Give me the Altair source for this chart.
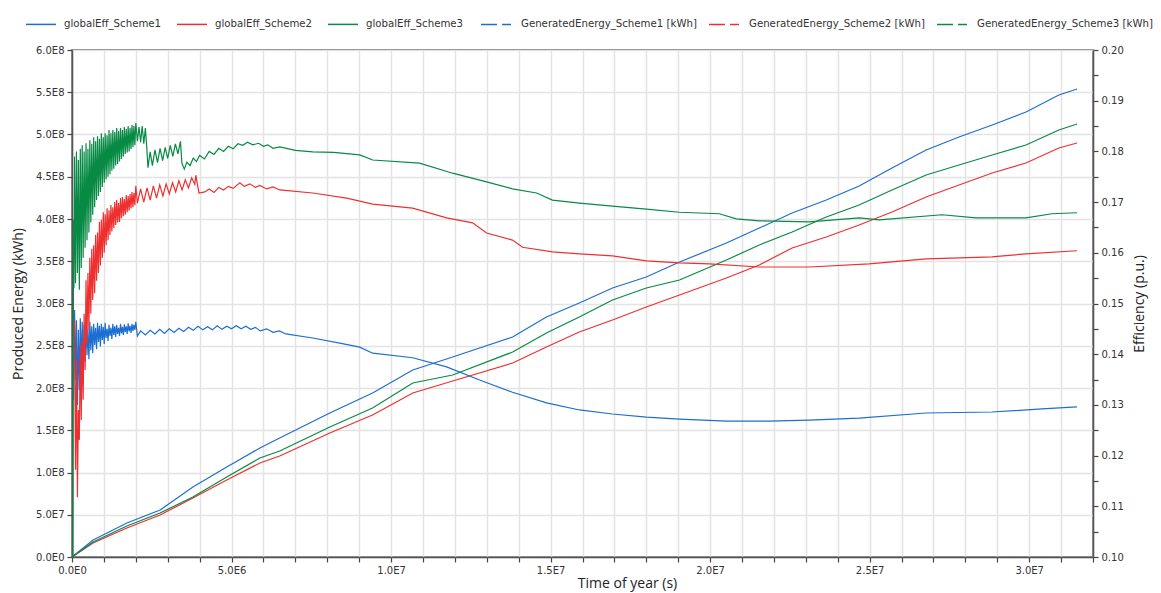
import altair as alt
import pandas as pd

# ---------------- data ----------------
series_energy = ["GeneratedEnergy_Scheme1 [kWh]", "GeneratedEnergy_Scheme2 [kWh]", "GeneratedEnergy_Scheme3 [kWh]"]
series_eff = ["globalEff_Scheme1", "globalEff_Scheme2", "globalEff_Scheme3"]

# time of year (s) for the cumulative energy curves
t_energy = [0, 0.66e6, 1.72e6, 2.76e6, 3.79e6, 4.85e6, 5.89e6, 6.51e6, 8.08e6, 9.42e6,
            10.68e6, 11.93e6, 13.81e6, 14.87e6, 15.90e6, 16.94e6, 18.00e6, 19.04e6, 20.51e6, 21.54e6,
            22.57e6, 23.64e6, 24.67e6, 25.70e6, 26.77e6, 27.80e6, 28.84e6, 29.90e6, 30.93e6, 31.50e6]
# produced energy (kWh)
energy_s1 = [0, 0.201e8, 0.402e8, 0.556e8, 0.828e8, 1.065e8, 1.290e8, 1.408e8, 1.704e8, 1.941e8,
             2.213e8, 2.367e8, 2.603e8, 2.840e8, 3.006e8, 3.183e8, 3.314e8, 3.491e8, 3.716e8, 3.893e8,
             4.071e8, 4.225e8, 4.390e8, 4.603e8, 4.816e8, 4.970e8, 5.112e8, 5.266e8, 5.467e8, 5.538e8]
energy_s2 = [0, 0.166e8, 0.343e8, 0.497e8, 0.698e8, 0.911e8, 1.112e8, 1.195e8, 1.467e8, 1.680e8,
             1.941e8, 2.083e8, 2.296e8, 2.485e8, 2.663e8, 2.805e8, 2.959e8, 3.101e8, 3.302e8, 3.456e8,
             3.657e8, 3.787e8, 3.929e8, 4.083e8, 4.260e8, 4.402e8, 4.544e8, 4.663e8, 4.840e8, 4.899e8]
energy_s3 = [0, 0.178e8, 0.367e8, 0.521e8, 0.710e8, 0.947e8, 1.172e8, 1.254e8, 1.538e8, 1.763e8,
             2.059e8, 2.154e8, 2.426e8, 2.651e8, 2.840e8, 3.041e8, 3.183e8, 3.278e8, 3.515e8, 3.692e8,
             3.846e8, 4.024e8, 4.166e8, 4.343e8, 4.521e8, 4.639e8, 4.757e8, 4.876e8, 5.053e8, 5.124e8]

# global efficiency (p.u.), scheme 1  (time in s, value)
t_eff1 = [0.05e6, 0.08e6, 0.11e6, 0.14e6, 0.17e6, 0.20e6, 0.23e6, 0.26e6, 0.29e6, 0.32e6,
          0.35e6, 0.38e6, 0.41e6, 0.44e6, 0.47e6, 0.50e6, 0.53e6, 0.56e6, 0.59e6, 0.62e6,
          0.65e6, 0.68e6, 0.71e6, 0.74e6, 0.77e6, 0.80e6, 0.83e6, 0.86e6, 0.89e6, 0.92e6,
          0.95e6, 0.98e6, 1.01e6, 1.04e6, 1.07e6, 1.10e6, 1.13e6, 1.16e6, 1.19e6, 1.22e6,
          1.25e6, 1.28e6, 1.31e6, 1.34e6, 1.37e6, 1.40e6, 1.43e6, 1.46e6, 1.49e6, 1.52e6,
          1.55e6, 1.58e6, 1.61e6, 1.64e6, 1.67e6, 1.70e6, 1.73e6, 1.76e6, 1.79e6, 1.82e6,
          1.85e6, 1.88e6, 1.91e6, 1.94e6, 1.97e6, 2.00e6, 2.05e6, 2.15e6, 2.30e6, 2.45e6,
          2.60e6, 2.75e6, 2.90e6, 3.05e6, 3.20e6, 3.35e6, 3.50e6, 3.65e6, 3.80e6, 3.95e6,
          4.10e6, 4.25e6, 4.40e6, 4.55e6, 4.70e6, 4.85e6, 5.00e6, 5.15e6, 5.30e6, 5.45e6,
          5.60e6, 5.75e6, 5.90e6, 6.10e6, 6.30e6, 6.50e6, 6.70e6, 7.545e6, 8.391e6, 9.017e6,
          9.424e6, 10.676e6, 11.741e6, 12.774e6, 13.807e6, 14.872e6, 15.905e6, 16.938e6, 18.003e6, 19.036e6,
          20.507e6, 21.854e6, 23.106e6, 24.671e6, 26.769e6, 28.835e6, 30.401e6, 31.497e6]
eff_s1 = [0.1310, 0.1487, 0.1349, 0.1467, 0.1300, 0.1448, 0.1329, 0.1471, 0.1369, 0.1464,
          0.1372, 0.1458, 0.1385, 0.1462, 0.1398, 0.1450, 0.1390, 0.1464, 0.1408, 0.1455,
          0.1402, 0.1460, 0.1418, 0.1452, 0.1410, 0.1462, 0.1424, 0.1456, 0.1415, 0.1460,
          0.1428, 0.1454, 0.1420, 0.1462, 0.1432, 0.1450, 0.1426, 0.1458, 0.1436, 0.1452,
          0.1430, 0.1460, 0.1438, 0.1455, 0.1434, 0.1458, 0.1440, 0.1452, 0.1436, 0.1460,
          0.1441, 0.1454, 0.1438, 0.1459, 0.1444, 0.1455, 0.1440, 0.1461, 0.1445, 0.1456,
          0.1442, 0.1460, 0.1446, 0.1458, 0.1448, 0.1464, 0.1436, 0.1446, 0.1438, 0.1447,
          0.1440, 0.1449, 0.1441, 0.1450, 0.1443, 0.1451, 0.1445, 0.1453, 0.1447, 0.1455,
          0.1448, 0.1454, 0.1448, 0.1456, 0.1449, 0.1455, 0.1450, 0.1456, 0.1450, 0.1455,
          0.1449, 0.1453, 0.1446, 0.1450, 0.1443, 0.1446, 0.1440, 0.1432, 0.1422, 0.1414,
          0.1402, 0.1393, 0.1375, 0.1349, 0.1325, 0.1304, 0.1290, 0.1282, 0.1276, 0.1272,
          0.1268, 0.1268, 0.1270, 0.1274, 0.1284, 0.1286, 0.1292, 0.1296]

# scheme 2
t_eff2 = [0.08e6, 0.11e6, 0.14e6, 0.17e6, 0.20e6, 0.23e6, 0.26e6, 0.29e6, 0.32e6, 0.35e6,
          0.38e6, 0.41e6, 0.44e6, 0.47e6, 0.50e6, 0.53e6, 0.56e6, 0.59e6, 0.62e6, 0.65e6,
          0.68e6, 0.71e6, 0.74e6, 0.77e6, 0.80e6, 0.83e6, 0.86e6, 0.89e6, 0.92e6, 0.95e6,
          0.98e6, 1.01e6, 1.04e6, 1.07e6, 1.10e6, 1.13e6, 1.16e6, 1.19e6, 1.22e6, 1.25e6,
          1.28e6, 1.31e6, 1.34e6, 1.37e6, 1.40e6, 1.43e6, 1.46e6, 1.49e6, 1.52e6, 1.55e6,
          1.58e6, 1.61e6, 1.64e6, 1.67e6, 1.70e6, 1.73e6, 1.76e6, 1.79e6, 1.82e6, 1.85e6,
          1.88e6, 1.91e6, 1.94e6, 1.97e6, 2.00e6, 2.05e6, 2.15e6, 2.25e6, 2.35e6, 2.45e6,
          2.55e6, 2.65e6, 2.75e6, 2.85e6, 2.95e6, 3.05e6, 3.15e6, 3.25e6, 3.35e6, 3.45e6,
          3.55e6, 3.65e6, 3.75e6, 3.85e6, 3.88e6, 3.98e6, 4.164e6, 4.30e6, 4.45e6, 4.60e6,
          4.75e6, 4.90e6, 5.05e6, 5.26e6, 5.40e6, 5.573e6, 5.75e6, 5.886e6, 6.10e6, 6.30e6,
          6.512e6, 7.545e6, 8.610e6, 9.424e6, 10.676e6, 11.741e6, 12.555e6, 12.993e6, 13.807e6, 14.120e6,
          15.059e6, 15.905e6, 16.938e6, 18.003e6, 19.036e6, 19.975e6, 21.541e6, 23.106e6, 24.984e6, 26.769e6,
          28.835e6, 29.900e6, 31.497e6]
eff_s2 = [0.1467, 0.1172, 0.1389, 0.1118, 0.1290, 0.1231, 0.1418, 0.1270, 0.1428, 0.1310,
          0.1480, 0.1369, 0.1546, 0.1420, 0.1560, 0.1448, 0.1590, 0.1480, 0.1608, 0.1507,
          0.1615, 0.1520, 0.1635, 0.1545, 0.1640, 0.1560, 0.1661, 0.1575, 0.1665, 0.1590,
          0.1680, 0.1600, 0.1676, 0.1615, 0.1688, 0.1625, 0.1684, 0.1635, 0.1694, 0.1642,
          0.1690, 0.1649, 0.1700, 0.1655, 0.1704, 0.1660, 0.1698, 0.1661, 0.1708, 0.1668,
          0.1710, 0.1672, 0.1706, 0.1675, 0.1714, 0.1680, 0.1712, 0.1683, 0.1716, 0.1688,
          0.1720, 0.1690, 0.1718, 0.1694, 0.1732, 0.1698, 0.1726, 0.1700, 0.1728, 0.1704,
          0.1732, 0.1708, 0.1734, 0.1712, 0.1736, 0.1716, 0.1738, 0.1720, 0.1742, 0.1724,
          0.1744, 0.1728, 0.1748, 0.1735, 0.1753, 0.1718, 0.1720, 0.1726, 0.1719, 0.1729,
          0.1724, 0.1731, 0.1727, 0.1738, 0.1731, 0.1736, 0.1729, 0.1733, 0.1726, 0.1730,
          0.1724, 0.1718, 0.1708, 0.1696, 0.1688, 0.1669, 0.1659, 0.1639, 0.1625, 0.1611,
          0.1602, 0.1598, 0.1594, 0.1584, 0.1580, 0.1578, 0.1572, 0.1572, 0.1578, 0.1588,
          0.1592, 0.1598, 0.1604]

# scheme 3
t_eff3 = [0.031e6, 0.047e6, 0.06e6, 0.08e6, 0.11e6, 0.14e6, 0.17e6, 0.20e6, 0.23e6, 0.26e6,
          0.29e6, 0.32e6, 0.35e6, 0.38e6, 0.41e6, 0.44e6, 0.47e6, 0.50e6, 0.53e6, 0.56e6,
          0.59e6, 0.62e6, 0.65e6, 0.68e6, 0.71e6, 0.74e6, 0.77e6, 0.80e6, 0.83e6, 0.86e6,
          0.89e6, 0.92e6, 0.95e6, 0.98e6, 1.01e6, 1.04e6, 1.07e6, 1.10e6, 1.13e6, 1.16e6,
          1.19e6, 1.22e6, 1.25e6, 1.28e6, 1.31e6, 1.34e6, 1.37e6, 1.40e6, 1.43e6, 1.46e6,
          1.49e6, 1.52e6, 1.55e6, 1.58e6, 1.61e6, 1.64e6, 1.67e6, 1.70e6, 1.73e6, 1.76e6,
          1.79e6, 1.82e6, 1.85e6, 1.88e6, 1.91e6, 1.94e6, 1.97e6, 2.00e6, 2.05e6, 2.10e6,
          2.15e6, 2.20e6, 2.25e6, 2.30e6, 2.348e6, 2.38e6, 2.45e6, 2.52e6, 2.60e6, 2.68e6,
          2.76e6, 2.84e6, 2.92e6, 3.00e6, 3.08e6, 3.16e6, 3.24e6, 3.32e6, 3.40e6, 3.444e6,
          3.52e6, 3.60e6, 3.70e6, 3.80e6, 3.90e6, 4.00e6, 4.15e6, 4.30e6, 4.45e6, 4.60e6,
          4.75e6, 4.90e6, 5.05e6, 5.20e6, 5.354e6, 5.50e6, 5.667e6, 5.85e6, 6.00e6, 6.137e6,
          6.30e6, 6.512e6, 7.00e6, 7.545e6, 8.20e6, 9.017e6, 9.424e6, 10.895e6, 11.929e6, 12.993e6,
          13.807e6, 14.559e6, 15.059e6, 15.905e6, 16.938e6, 18.003e6, 19.036e6, 20.288e6, 20.820e6, 21.541e6,
          23.106e6, 24.671e6, 25.297e6, 27.270e6, 28.334e6, 29.900e6, 30.714e6, 31.497e6]
eff_s3 = [0.1000, 0.1665, 0.1530, 0.1790, 0.1540, 0.1800, 0.1560, 0.1783, 0.1527, 0.1805,
          0.1570, 0.1812, 0.1590, 0.1800, 0.1610, 0.1816, 0.1625, 0.1805, 0.1640, 0.1822,
          0.1660, 0.1815, 0.1675, 0.1828, 0.1690, 0.1820, 0.1704, 0.1830, 0.1712, 0.1825,
          0.1720, 0.1836, 0.1730, 0.1828, 0.1738, 0.1836, 0.1745, 0.1832, 0.1750, 0.1842,
          0.1755, 0.1836, 0.1762, 0.1842, 0.1766, 0.1838, 0.1772, 0.1846, 0.1775, 0.1840,
          0.1780, 0.1846, 0.1785, 0.1842, 0.1790, 0.1848, 0.1795, 0.1844, 0.1798, 0.1850,
          0.1800, 0.1846, 0.1805, 0.1852, 0.1808, 0.1850, 0.1812, 0.1856, 0.1820, 0.1848,
          0.1818, 0.1850, 0.1815, 0.1846, 0.1803, 0.1768, 0.1799, 0.1772, 0.1803, 0.1778,
          0.1806, 0.1782, 0.1808, 0.1786, 0.1812, 0.1790, 0.1815, 0.1795, 0.1820, 0.1777,
          0.1765, 0.1779, 0.1772, 0.1787, 0.1780, 0.1792, 0.1785, 0.1800, 0.1794, 0.1806,
          0.1800, 0.1810, 0.1805, 0.1815, 0.1812, 0.1818, 0.1813, 0.1816, 0.1810, 0.1813,
          0.1806, 0.1809, 0.1802, 0.1799, 0.1798, 0.1793, 0.1783, 0.1777, 0.1757, 0.1740,
          0.1726, 0.1718, 0.1704, 0.1698, 0.1692, 0.1686, 0.1680, 0.1677, 0.1667, 0.1663,
          0.1661, 0.1669, 0.1665, 0.1675, 0.1669, 0.1669, 0.1677, 0.1679]

# axis ticks
x_ticks = [i * 1000000 for i in range(0, 33)]
y_left_ticks = [i * 50000000 for i in range(0, 13)]
y_right_ticks = [0.100, 0.105, 0.110, 0.115, 0.120, 0.125, 0.130, 0.135, 0.140, 0.145, 0.150,
                 0.155, 0.160, 0.165, 0.170, 0.175, 0.180, 0.185, 0.190, 0.195, 0.200]

colors = ["#1c6ed2", "#ee2f2f", "#078a44"]

# ---------------- tables ----------------
df_en = pd.concat([
    pd.DataFrame({"t": t_energy, "v": vals, "series": name})
    for name, vals in zip(series_energy, [energy_s1, energy_s2, energy_s3])
], ignore_index=True)
df_eff = pd.concat([
    pd.DataFrame({"t": tt, "v": vals, "series": name})
    for name, tt, vals in zip(series_eff, [t_eff1, t_eff2, t_eff3], [eff_s1, eff_s2, eff_s3])
], ignore_index=True)

LABEL_FONT = "DejaVu Sans"
TITLE_FONT = "Open Sans"

x_scale = alt.Scale(domain=[0, 32000000], nice=False, zero=False)
x_axis = alt.Axis(
    title="Time of year (s)", values=x_ticks,
    labelExpr="datum.value % 5000000 == 0 ? replace(format(datum.value, '.1e'), 'e+', 'E') : ''",
    labelOverlap=False, labelFlush=False, grid=True, titlePadding=1, titleX=555,
)

energy = alt.Chart(df_en).mark_line(strokeWidth=1.2).encode(
    x=alt.X("t:Q", scale=x_scale, axis=x_axis),
    y=alt.Y("v:Q", scale=alt.Scale(domain=[0, 600000000], nice=False),
            axis=alt.Axis(title="Produced Energy (kWh)", values=y_left_ticks, grid=True,
                          labelExpr="replace(format(datum.value, '.1e'), 'e+', 'E')",
                          labelOverlap=False, labelFlush=False, titlePadding=10)),
    stroke=alt.Stroke("series:N", scale=alt.Scale(domain=series_energy, range=colors),
                      legend=alt.Legend(orient="none", legendX=408, legendY=-42, direction="horizontal",
                                        title=None, symbolType="stroke", symbolSize=900,
                                        symbolStrokeWidth=1.5, symbolDash=[16, 5, 9, 40],
                                        labelFont=LABEL_FONT, labelFontSize=10.2, labelColor="#333",
                                        labelLimit=400, columnPadding=9, labelOffset=9)),
)

eff = alt.Chart(df_eff).mark_line(strokeWidth=1.2).encode(
    x=alt.X("t:Q", scale=x_scale, axis=x_axis),
    y=alt.Y("v:Q", scale=alt.Scale(domain=[0.1, 0.2], nice=False, zero=False),
            axis=alt.Axis(title="Efficiency (p.u.)", orient="right", values=y_right_ticks, grid=False,
                          labelExpr="round(datum.value * 1000) % 10 == 0 ? format(datum.value, '.2f') : ''",
                          labelOverlap=False, labelFlush=False, titlePadding=9,
                          titleAngle=270, titleBaseline="top")),
    color=alt.Color("series:N", scale=alt.Scale(domain=series_eff, range=colors),
                    legend=alt.Legend(orient="none", legendX=-47, legendY=-42, direction="horizontal",
                                      title=None, symbolType="stroke", symbolSize=900,
                                      symbolStrokeWidth=1.5,
                                      labelFont=LABEL_FONT, labelFontSize=10.2, labelColor="#333",
                                      labelLimit=400, columnPadding=12, labelOffset=7)),
)

chart = alt.layer(energy, eff).resolve_scale(y="independent").properties(
    width=1021, height=507,
    autosize=alt.AutoSizeParams(type="none"),
    padding={"left": 72, "top": 50, "right": 68, "bottom": 36},
    background="white",
).configure_view(
    stroke="#555", strokeWidth=1.5,
).configure_axis(
    labelFont=LABEL_FONT, labelFontSize=10, labelColor="#333", labelPadding=3,
    titleFont=TITLE_FONT, titleFontSize=14, titleFontWeight="normal", titleColor="#222",
    domainColor="#555", domainWidth=1.5, tickColor="#444", tickSize=5, tickWidth=1.2,
    gridColor="#e3e3e3", gridWidth=1.5,
)

chart.save("out.html", embed_options={"renderer": "svg", "actions": False})
